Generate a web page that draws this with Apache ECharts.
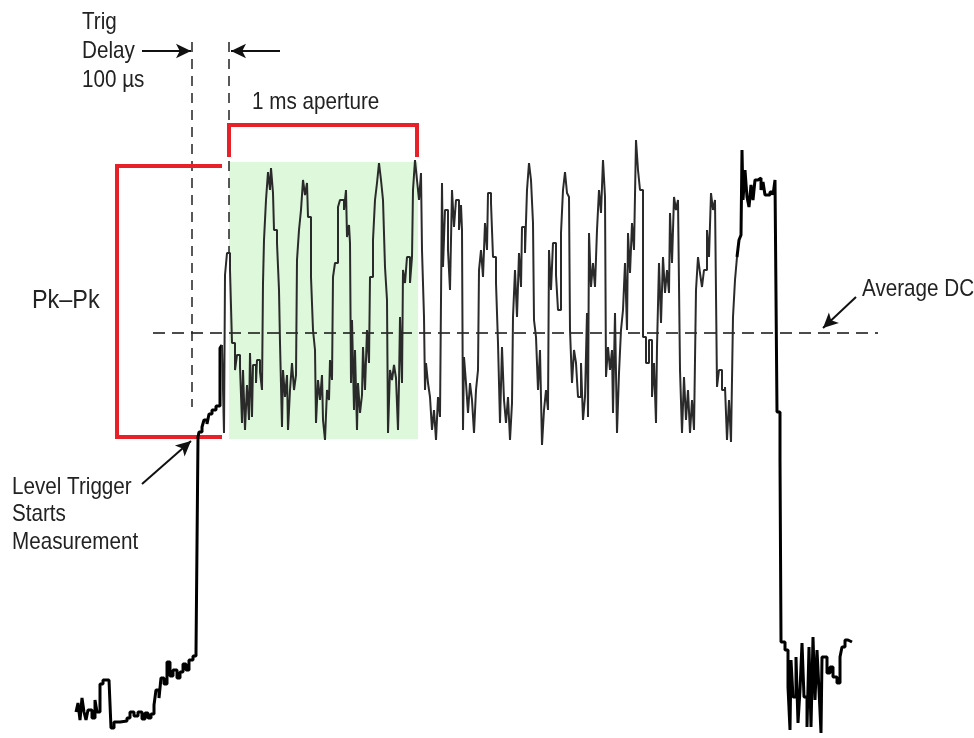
<!DOCTYPE html>
<html><head><meta charset="utf-8">
<script src="https://cdn.jsdelivr.net/npm/echarts@6/dist/echarts.min.js"></script>
<style>html,body{margin:0;padding:0;background:#fff}#c{width:974px;height:738px}</style>
</head><body><div id="c"></div>
<script>
// Waveform samples: [time, depth] (depth axis inverted: larger = lower level)
const preTrigger = [[76,712],[78,703],[80,720],[82,698],[84,712],[86,720],[88,710],[92,718],[95,700],[97,712],[100,684],[103,680],[109,680],[111,728],[114,722],[120,721],[127,718],[130,712],[134,716],[138,712],[142,719],[145,713],[148,718],[151,714],[154,705],[156,690],[159,698],[161,678],[164,684],[167,662],[170,676],[173,670],[177,678],[180,672],[183,664],[186,670],[189,660],[193,656],[196,652],[198,437],[199,432],[202,427],[204,420],[207,424],[209,414],[212,410],[216,406],[220,348],[222,345]];
const rippleTrace = [[222,345],[224,433],[225,275],[227,253],[230,270],[232,343],[235,370],[237,355],[240,367],[242,423],[243,370],[245,430],[247,385],[249,420],[250,353],[252,417],[253,365],[256,383],[257,360],[260,372],[262,390],[263,283],[264,240],[266,200],[268,172],[270,190],[271,168],[273,193],[274,230],[277,243],[279,290],[280,343],[282,427],[283,370],[285,397],[287,375],[288,430],[290,390],[292,363],[294,390],[296,375],[297,260],[299,230],[301,210],[303,180],[305,195],[307,183],[308,217],[311,277],[313,330],[315,350],[316,423],[318,380],[320,400],[322,375],[323,420],[325,440],[327,390],[329,400],[330,360],[332,380],[333,277],[335,263],[338,207],[340,200],[344,210],[346,190],[347,237],[349,225],[350,243],[351,383],[352,320],[354,410],[355,350],[357,430],[358,383],[360,413],[362,395],[363,347],[365,390],[367,330],[369,363],[370,277],[373,240],[375,200],[377,183],[379,163],[381,180],[383,200],[385,267],[387,300],[388,433],[390,370],[392,380],[394,365],[396,378],[398,430],[399,383],[400,317],[402,383],[403,270],[405,283],[407,257],[410,283],[412,257],[413,190],[415,160],[417,180],[419,200],[421,173],[422,250],[424,317],[425,390],[426,363],[428,383],[430,397],[432,430],[434,410],[436,440],[438,397],[440,417],[442,183],[443,267],[445,210],[448,250],[450,290],[452,190],[454,227],[456,200],[459,230],[461,205],[462,230],[463,430],[464,357],[466,383],[468,413],[470,383],[472,400],[474,433],[476,390],[478,370],[479,270],[481,250],[483,277],[485,223],[487,250],[488,193],[491,203],[493,257],[496,283],[498,343],[500,423],[502,347],[504,400],[506,423],[508,397],[510,440],[512,403],[513,317],[515,270],[517,317],[519,253],[521,287],[522,227],[525,253],[527,190],[529,163],[531,180],[533,223],[534,320],[536,337],[538,390],[540,350],[542,445],[544,410],[546,390],[548,410],[549,250],[551,290],[553,243],[556,275],[558,310],[561,233],[563,190],[565,172],[567,193],[569,197],[570,330],[572,383],[574,350],[576,363],[578,397],[581,363],[583,420],[585,397],[587,313],[588,417],[589,233],[591,287],[593,263],[595,287],[597,230],[599,190],[601,213],[603,160],[605,197],[606,377],[608,347],[610,370],[612,350],[613,413],[615,313],[617,433],[619,373],[621,330],[623,310],[625,263],[627,330],[628,233],[630,273],[632,223],[634,250],[636,140],[638,170],[640,190],[643,337],[646,363],[649,340],[652,397],[654,363],[656,423],[657,347],[659,263],[661,323],[663,257],[665,293],[667,270],[669,293],[670,213],[672,263],[674,197],[676,210],[678,200],[680,370],[682,433],[684,377],[686,420],[688,390],[690,433],[692,400],[694,430],[696,290],[698,257],[700,273],[702,287],[704,270],[707,230],[709,257],[711,193],[713,210],[715,200],[717,387],[719,370],[722,390],[725,387],[727,440],[729,400],[731,442],[733,317],[735,280],[737,257]];
const pulseEnd = [[737,257],[739,240],[741,235],[742,150],[743,200],[745,170],[747,197],[749,207],[751,185],[753,200],[755,180],[758,178],[761,190],[763,182],[765,195],[770,192],[773,195],[775,180],[777,412],[780,460],[781,642],[785,650],[788,687],[790,730],[791,660],[793,697],[796,657],[798,723],[800,690],[802,643],[804,697],[807,727],[809,647],[811,727],[813,637],[815,700],[817,650],[819,690],[821,733],[822,657],[827,673],[830,667],[833,677],[837,683],[840,657],[842,647],[845,640],[848,642],[852,642]];

// Annotation geometry in the same data space
const averageDC = [[153,333],[878,333]];
const trigDelayMarker = [[192,42],[192,407]];
const apertureStartMarker = [[229,42],[229,253]];
const apertureBracket = [[229,157],[229,125],[417,125],[417,157]];
const pkpkBracket = [[222,166],[117,166],[117,437],[222,437]];
const apertureWindow = [[229,162],[418,439]];
const arrows = [
  [[142,51],[191,51]],
  [[280,51],[231,51]],
  [[856,297],[823,328]],
  [[142,484],[191,441]]
];
const labels = [
  {text:'Trig', x:82, y:22},
  {text:'Delay', x:82, y:51},
  {text:'100 µs', x:82, y:80},
  {text:'1 ms aperture', x:252, y:102},
  {text:'Average DC', x:862, y:289},
  {text:'Level Trigger', x:12, y:487},
  {text:'Starts', x:12, y:514},
  {text:'Measurement', x:12, y:542}
];
const pkLabel = {text:'Pk–Pk', x:32, y:301};

const FONT = '"Liberation Sans", Arial, sans-serif';
const chart = echarts.init(document.getElementById('c'), null, {renderer:'canvas'});
const lineBase = {type:'line', showSymbol:false, symbol:'none', silent:true, animation:false};
chart.setOption({
  animation:false,
  grid:{left:0,right:0,top:0,bottom:0},
  xAxis:{type:'value', min:0, max:974, show:false},
  yAxis:{type:'value', min:0, max:738, inverse:true, show:false},
  series:[
    Object.assign({}, lineBase, {name:'window', data:[], z:1,
      markArea:{silent:true, itemStyle:{color:'#ddf8da'},
        data:[[{coord:apertureWindow[0]},{coord:apertureWindow[1]}]]}}),
    Object.assign({}, lineBase, {name:'avgdc', data:averageDC, z:3,
      lineStyle:{color:'#111', width:1.5, type:[12,7]}}),
    Object.assign({}, lineBase, {name:'trigdelay', data:trigDelayMarker, z:3,
      lineStyle:{color:'#222', width:1.5, type:[10,7]}}),
    Object.assign({}, lineBase, {name:'apstart', data:apertureStartMarker, z:3,
      lineStyle:{color:'#222', width:1.5, type:[10,7]}}),
    Object.assign({}, lineBase, {name:'apbracket', data:apertureBracket, z:4,
      lineStyle:{color:'#e8202a', width:4, join:'miter'}}),
    Object.assign({}, lineBase, {name:'pkbracket', data:pkpkBracket, z:4,
      lineStyle:{color:'#e8202a', width:4, join:'miter'}}),
    Object.assign({}, lineBase, {name:'pre', data:preTrigger, step:'end', z:5,
      lineStyle:{color:'#000', width:3}}),
    Object.assign({}, lineBase, {name:'ripple', data:rippleTrace, step:'end', z:5,
      lineStyle:{color:'#2a2a2a', width:2}}),
    Object.assign({}, lineBase, {name:'end', data:pulseEnd, step:'end', z:5,
      lineStyle:{color:'#000', width:3}}),
    Object.assign({}, lineBase, {name:'arrows', data:[], z:6,
      markLine:{silent:true, animation:false, symbol:['none','arrow'], symbolSize:[11,15],
        label:{show:false}, lineStyle:{color:'#111', width:2, type:'solid'},
        data: arrows.map(a => [{coord:a[0]},{coord:a[1]}])}})
  ],
  graphic: labels.map(l => ({type:'text', x:l.x, y:l.y, scaleX:0.86, silent:true,
      style:{text:l.text, font:'24px ' + FONT, fill:'#222', verticalAlign:'middle'}}))
    .concat([{type:'text', x:pkLabel.x, y:pkLabel.y, scaleX:0.9, silent:true,
      style:{text:pkLabel.text, font:'26px ' + FONT, fill:'#222', verticalAlign:'middle'}}])
});
</script></body></html>
